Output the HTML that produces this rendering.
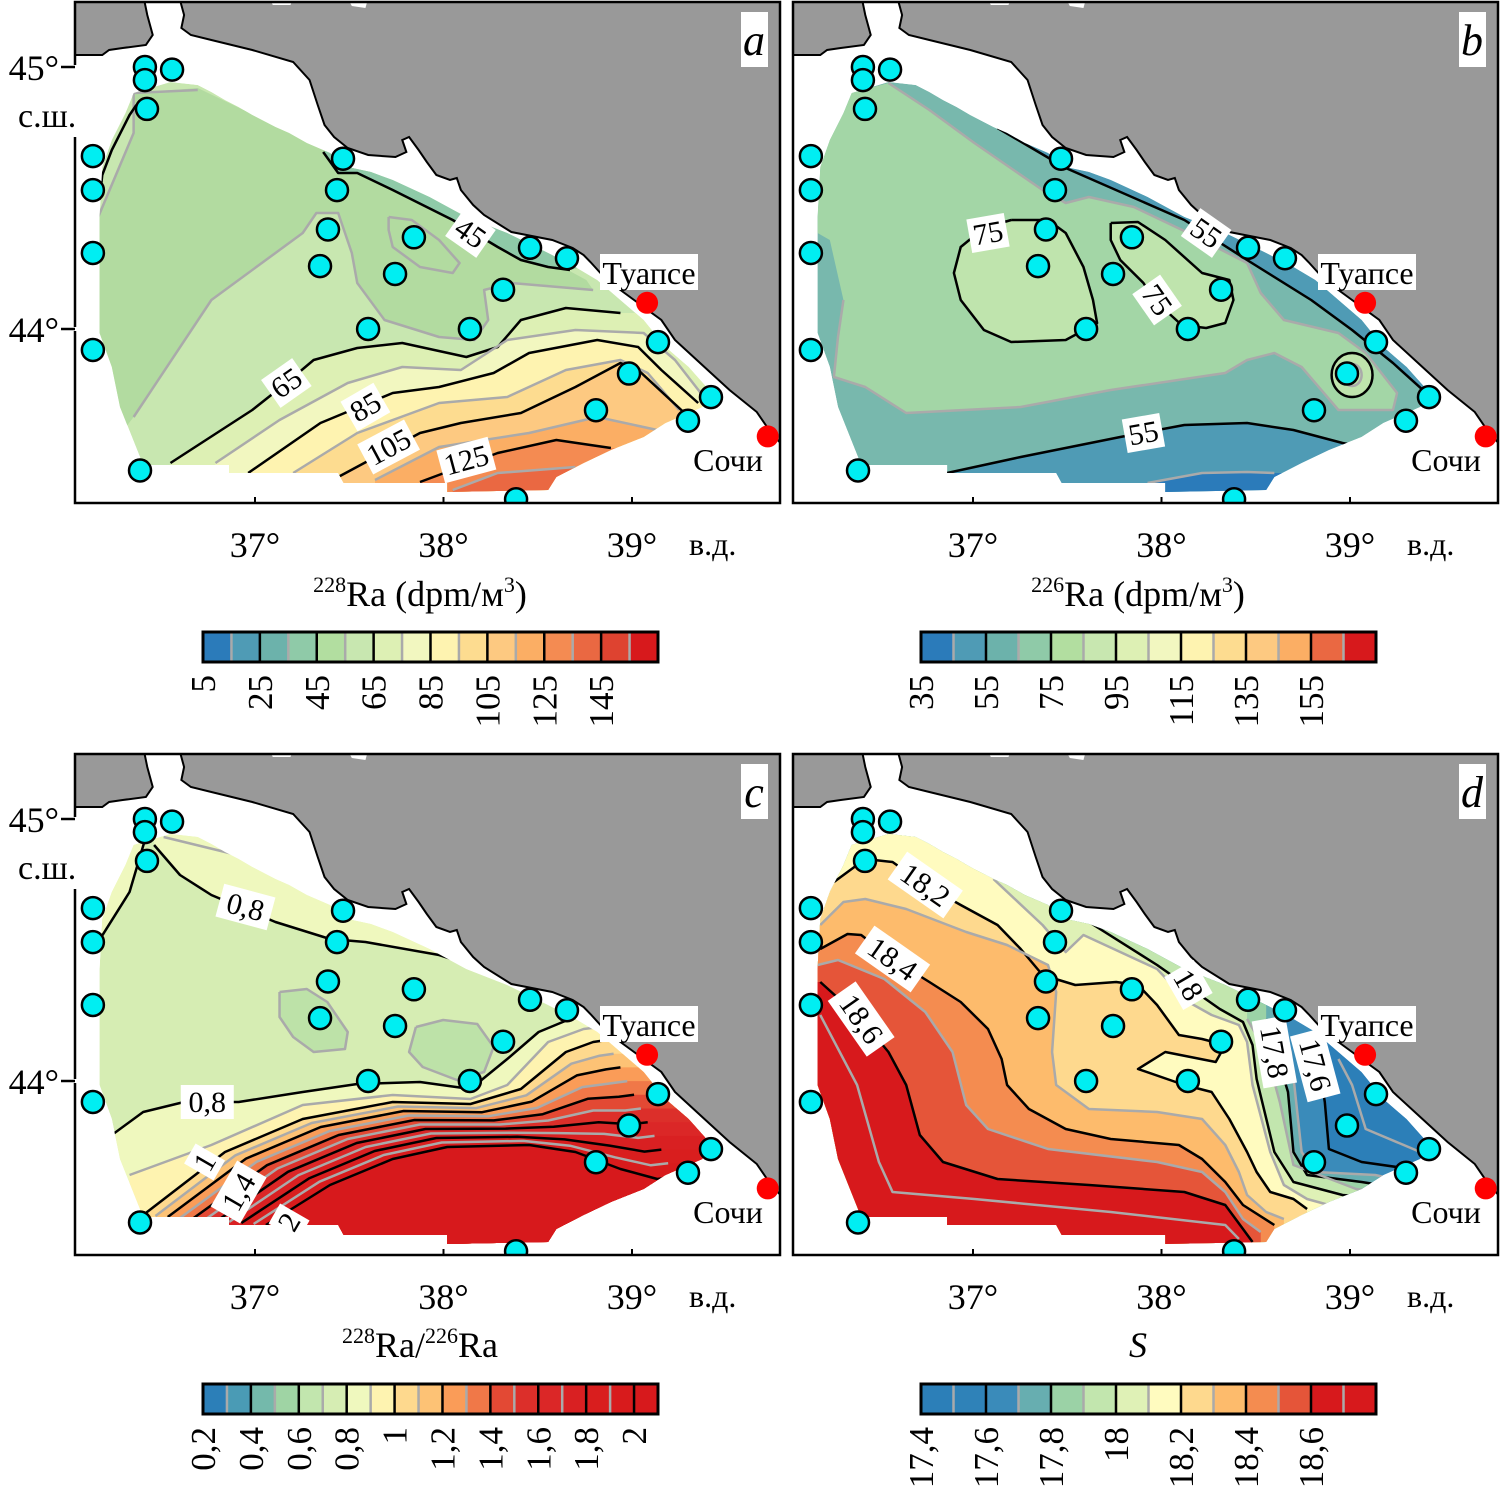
<!DOCTYPE html>
<html><head><meta charset="utf-8"><style>
html,body{margin:0;padding:0;background:#fff}
svg{display:block}
svg text{font-family:"Liberation Serif","Times New Roman",serif !important;fill:#000}
</style></head><body>
<svg id="fig" xmlns="http://www.w3.org/2000/svg" width="1500" height="1499" viewBox="0 0 1500 1499" font-family="Liberation Serif, serif"></svg>
<script>
// ---- station data (lon / lat) ----
const stationLon = [36.416,36.416,36.56,36.427,36.14,36.14,36.14,36.14,37.467,37.435,37.387,37.345,37.843,37.743,38.316,38.459,38.655,37.6,38.14,39.138,38.984,39.419,38.809,39.297,36.39,38.385];
const stationLat = [45.0,44.95,44.99,44.84,44.66,44.53,44.29,43.92,44.65,44.53,44.38,44.24,44.35,44.21,44.15,44.31,44.27,44.0,44.0,43.95,43.83,43.74,43.69,43.65,43.46,43.35];
const cityNames = ["Туапсе","Сочи"];
const cityLon = [39.08, 39.72];
const cityLat = [44.10, 43.59];
const lonTicks = [37,38,39];
const latTicks = [45,44];
// colorbars
const cbA = ['#2b7bba','#4f9bb5','#6cb2ab','#8fcaa8','#b2dea0','#c8e7b0','#ddf0b4','#f2f7c0','#fef3b0','#fddc90','#fdc981','#fbae64','#f48b52','#ea6842','#de4330','#d7191c'];
const cbALabels = ['5','25','45','65','85','105','125','145'];
const cbB = ['#2b7bba','#4f9bb5','#6cb2ab','#8fcaa8','#b2dea0','#c8e7b0','#ddf0b4','#f2f7c0','#fef3b0','#fddc90','#fdc981','#fbae64','#ea6842','#d7191c'];
const cbBLabels = ['35','55','75','95','115','135','155'];
const cbC = ['#2c7fb8','#4a9bb5','#74b9ab','#9fd4a4','#c2e6ae','#d6edb3','#eff8be','#fef3b0','#fed98e','#fdc275','#fa9c58','#f07848','#e34934','#dc2f2a','#db2727','#d92022','#d91e1e','#d81b1c','#d7191c'];
const cbCLabels = ['0,2','0,4','0,6','0,8','1','1,2','1,4','1,6','1,8','2'];
const cbD = ['#2c7fb8','#2f82b8','#3a8bba','#67aeb0','#9bd2a6','#c2e6ae','#dff1b6','#fffbbf','#fed98e','#fdbb6c','#f48c50','#e55539','#d7191c','#d7191c'];
const cbDLabels = ['17,4','17,6','17,8','18','18,2','18,4','18,6'];

const NS='http://www.w3.org/2000/svg';
const svg=document.getElementById('fig');
const SX=1.3636;
const FF='Liberation Serif, Times New Roman, serif';
function el(tag,attrs,parent){const e=document.createElementNS(NS,tag);for(const k in attrs)e.setAttribute(k,attrs[k]);if(tag==='text')e.setAttribute('font-family',FF);(parent||svg).appendChild(e);return e;}
function P(pts){return pts.map(p=>p[0]+','+p[1]).join(' ');}
function projX(ox,lon){return ox+180+(lon-37)*188.5;}
function projY(oy,lat){return oy+67+(45-lat)*262;}

const domain=[[43,93],[70,82],[90,85],[100,92],[110,100],[120,107],[130,115],[147,127],[157,133],[170,143],[187,153],[200,167],[217,172],[233,180],[260,197],[287,217],[317,233],[347,253],[367,267],[383,280],[400,300],[417,320],[433,347],[450,367],[467,393],[460,407],[433,423],[417,437],[393,450],[373,463],[353,477],[347,490],[273,492],[273,483],[197,483],[193,473],[113,473],[113,465],[50,465],[33,407],[27,367],[18,333],[18,217],[20,167],[27,140],[37,113]];
const landR=[[77,0],[78,5],[80,15],[78,28],[85,35],[100,40],[130,50],[160,62],[172,80],[178,105],[183,125],[190,137],[200,148],[215,155],[235,157],[243,152],[240,140],[245,137],[252,150],[258,162],[265,175],[275,180],[280,178],[283,190],[292,205],[300,215],[320,232],[350,240],[365,248],[373,255],[378,262],[390,280],[410,300],[430,320],[440,340],[460,365],[480,390],[500,412],[510,432],[520,447],[530,447],[530,-5],[77,-5]];
const landL=[[-5,-5],[50,-5],[53,15],[57,35],[52,45],[35,48],[25,50],[20,55],[-5,55]];

function bottomClose(l){const f=l[0],e=l[l.length-1];return l.concat([[600,e[1]],[600,600],[f[0],600]]);}
function leftClose(l){const f=l[0],e=l[l.length-1];return l.concat([[e[0],600],[-60,600],[-60,-60],[f[0],-60]]);}
function leftClose2(l){const f=l[0],e=l[l.length-1];return l.concat([[e[0],600],[-60,600],[-60,f[1]]]);}
function lerpLine(a,b,t){return a.map((p,i)=>[p[0]+(b[i][0]-p[0])*t,p[1]+(b[i][1]-p[1])*t]);}

const A_L=[
 [[70,463],[130,410],[155,383],[175,360],[207,348],[240,343],[287,357],[310,347],[327,320],[360,308],[400,313]],
 [[103,463],[150,420],[200,383],[240,367],[283,370],[317,340],[367,330],[417,333],[440,360],[460,395]],
 [[127,473],[180,423],[233,393],[267,387],[307,373],[333,353],[383,340],[413,347],[430,370],[457,403]],
 [[160,473],[207,433],[267,403],[317,397],[360,370],[400,360],[420,373],[443,410]],
 [[193,477],[253,433],[283,423],[327,413],[367,387],[400,363],[413,370],[447,413]],
 [[220,480],[267,447],[333,433],[383,417],[427,430]],
 [[253,482],[310,453],[353,440],[393,448]],
 [[277,490],[310,473],[367,467]]];
const A_C=['#ddf0b4','#f2f7c0','#fef3b0','#fddc90','#fdc981','#fbae64','#f48b52','#ea6842'];
const panels=[
 {ox:75,oy:0,name:'a',draw(g,lines){
   el('polygon',{points:P(domain),fill:'#c8e7b0'},g);
   const p55=[[43,93],[90,88],[200,160],[300,225],[375,280],[380,290],[320,283],[300,290],[303,320],[293,340],[267,337],[227,320],[207,283],[203,253],[193,213],[177,213],[167,233],[100,300],[43,417],[30,440],[17,400],[17,217],[35,160],[43,133]];
   el('polygon',{points:P(p55),fill:'#b2dba0'},g);
   const l45=[[182,152],[193,173],[207,173],[233,190],[277,220],[310,247],[327,260],[347,267],[363,270]];
   el('polygon',{points:P(l45.concat([[390,260],[220,130]])),fill:'#8fcaa8'},g);
   A_L.forEach((l,i)=>el('polygon',{points:P(bottomClose(l)),fill:A_C[i]},g));
   lines.push({pts:[[90,90],[43,93],[43,133],[17,217]],c:'#aaa'});
   lines.push({pts:[[380,290],[320,283],[300,290],[303,320],[293,340],[267,337],[227,320],[207,283],[203,253],[193,213],[177,213],[167,233],[100,300],[43,417]],c:'#aaa'});
   lines.push({pts:[[230,217],[247,220],[267,240],[282,263],[277,273],[253,267],[233,247],[230,230],[230,217]],c:'#aaa'});
   lines.push({pts:l45,c:'#000'});
   lines.push({pts:[[45,105],[40,115],[27,150],[20,175],[18,200]],c:'#000'});
   A_L.forEach((l,i)=>lines.push({pts:l,c:i%2?'#aaa':'#000'}));
 },labels:[['45',290,233,35],['65',155,383,-35],['85',213,407,-30],['105',230,447,-28],['125',287,460,-15]]},
 {ox:793,oy:0,name:'b',draw(g,lines){
   el('polygon',{points:P(domain),fill:'#78b8ad'},g);
   const p65=[[43,93],[70,83],[100,110],[133,143],[183,190],[200,203],[217,197],[250,207],[290,233],[333,263],[343,293],[360,320],[400,333],[420,353],[443,393],[440,410],[400,410],[373,367],[353,353],[333,360],[317,373],[233,390],[167,407],[83,413],[53,387],[30,377],[33,337],[37,300],[27,240],[18,233],[18,217],[20,167],[27,140],[37,113]];
   el('polygon',{points:P(p65),fill:'#a3d6a6'},g);
   const e1=[[160,220],[187,220],[200,233],[213,267],[220,300],[223,323],[200,340],[160,342],[140,330],[123,300],[118,273],[123,247],[140,228]];
   const e2=[[233,223],[253,222],[273,240],[300,273],[320,280],[323,300],[317,323],[303,328],[285,325],[265,300],[257,283],[240,260],[233,240]];
   el('polygon',{points:P(e1),fill:'#bfe4ad'},g);
   el('polygon',{points:P(e2),fill:'#bfe4ad'},g);
   el('ellipse',{cx:410,cy:375,rx:15,ry:22,fill:'#bfe4ad'},g);
   const l55=[[113,473],[167,457],[240,437],[287,425],[333,423],[367,430],[403,443],[430,450]];
   el('polygon',{points:P(bottomClose(l55)),fill:'#4f9bb5'},g);
   const t55=[[150,128],[200,168],[287,220],[333,260],[380,300],[410,330],[440,363],[470,400]];
   el('polygon',{points:P(t55.concat([[520,400],[520,100],[150,100]])),fill:'#4f9bb5'},g);
   const l45=[[260,483],[300,473],[333,472],[353,473]];
   el('polygon',{points:P(bottomClose(l45)),fill:'#2b7bba'},g);
   lines.push({pts:p65.slice(1,28),c:'#aaa'});
   lines.push({pts:e1.concat([e1[0]]),c:'#000'});
   lines.push({pts:e2.concat([e2[0]]),c:'#000'});
   lines.push({pts:l55,c:'#000'});lines.push({pts:t55,c:'#000'});lines.push({pts:l45,c:'#aaa'});
   lines.push({ell:[410,375,15,22],c:'#000'});lines.push({ell:[410,375,7,11],c:'#aaa'});
 },labels:[['75',143,233,-10],['75',267,300,55],['55',303,233,35],['55',257,433,-10]]},
 {ox:75,oy:752,name:'c',draw(g,lines){
   el('polygon',{points:P(domain),fill:'#d6edb3'},g);
   const up=[[58,93],[77,123],[100,143],[147,170],[187,187],[213,190],[267,203],[290,213],[380,260]];
   el('polygon',{points:P(up.concat([[420,0],[58,0]])),fill:'#eff8be'},g);
   const lf=[[53,80],[40,140],[17,190]];
   el('polygon',{points:P(lf.concat([[-50,190],[-50,80]])),fill:'#eff8be'},g);
   const p1=[[150,240],[170,237],[185,250],[200,280],[198,297],[175,300],[160,285],[150,265]];
   const p2=[[250,275],[270,268],[295,272],[307,295],[300,320],[280,328],[255,315],[245,300]];
   el('polygon',{points:P(p1),fill:'#bde2a8'},g);el('polygon',{points:P(p2),fill:'#bde2a8'},g);
   const L08=[[27,383],[50,360],[80,350],[120,350],[167,340],[207,332],[253,330],[290,337],[317,307],[340,280],[363,267],[380,262]];
   const L09=[[40,423],[100,393],[167,353],[233,343],[290,347],[317,333],[347,290],[373,277],[385,275]];
   const L10=[[50,463],[110,400],[167,367],[233,350],[290,352],[327,337],[360,300],[380,290],[390,288]];
   const L20=[[140,473],[187,433],[233,407],[273,395],[333,393],[367,400],[400,417],[427,427],[440,425]];
   el('polygon',{points:P(bottomClose(L08)),fill:'#eff8be'},g);
   el('polygon',{points:P(bottomClose(L09)),fill:'#fef3b0'},g);
   el('polygon',{points:P(bottomClose(L10)),fill:'#fed98e'},g);
   const cc=['#fdc275','#fa9c58','#f07848','#e34934','#dc2f2a','#db2727','#d92022','#d91e1e','#d81b1c','#d7191c'];
   const mids=[];
   for(let k=1;k<=10;k++){const l=lerpLine(L10,L20,k/10);mids.push(l);el('polygon',{points:P(bottomClose(l)),fill:cc[k-1]},g);}
   lines.push({pts:up,c:'#000'});lines.push({pts:lf,c:'#000'});
   lines.push({pts:[[65,85],[110,100],[140,110]],c:'#aaa'});
   lines.push({pts:p1.concat([p1[0]]),c:'#aaa'});lines.push({pts:p2.concat([p2[0]]),c:'#aaa'});
   lines.push({pts:L08,c:'#000'});lines.push({pts:L09,c:'#aaa'});lines.push({pts:L10,c:'#000'});
   mids.forEach((l,i)=>lines.push({pts:l,c:i%2?'#000':'#aaa'}));
 },labels:[['0,8',125,155,15],['0,8',97,350,0],['1',95,410,-60],['1,4',120,440,-60],['2',157,470,-60]]},
 {ox:793,oy:752,name:'d',draw(g,lines){
   el('polygon',{points:P(domain),fill:'#2c7fb8'},g);
   const D=[
    {p:[[383,250],[383,290],[390,350],[393,397],[417,410],[453,417],[470,420]],f:'#3a8bba',c:'#000',k:1},
    {p:[[353,253],[365,300],[373,400],[383,420],[427,423],[450,430]],f:'#67aeb0',c:'#aaa',k:1},
    {p:[[347,267],[363,340],[367,400],[377,423],[417,430],[440,435]],f:'#9bd2a6',c:'#000',k:1},
    {p:[[333,267],[347,300],[357,350],[367,413],[413,437],[430,440]],f:'#c2e6ae',c:'#aaa',k:1},
    {p:[[217,170],[267,213],[313,257],[330,270],[337,293],[340,327],[353,400],[367,430],[403,443],[420,445]],f:'#dff1b6',c:'#000',k:1},
    {p:[[147,127],[183,173],[200,200],[213,183],[267,217],[290,250],[307,263],[327,273],[333,290],[337,333],[350,400],[360,433],[377,447],[393,453]],f:'#fffbbf',c:'#aaa',k:1},
    {p:[[30,130],[53,107],[73,110],[97,133],[123,153],[150,173],[167,197],[183,223],[207,233],[237,230],[253,233],[267,253],[283,283],[300,287],[317,293],[310,310],[273,300],[253,317],[287,333],[307,340],[320,367],[333,400],[340,420],[350,440],[367,447],[377,457]],f:'#fed98e',c:'#000',k:2},
    {p:[[20,173],[37,150],[53,147],[83,157],[127,180],[157,193],[187,213],[193,240],[190,300],[193,333],[217,357],[267,360],[300,367],[317,393],[327,420],[333,443],[347,460],[360,467]],f:'#fdbb6c',c:'#aaa',k:2},
    {p:[[20,197],[40,182],[50,183],[73,207],[100,230],[123,250],[143,277],[153,307],[157,333],[173,357],[200,377],[233,387],[283,393],[300,407],[317,430],[330,453],[353,473]],f:'#f48c50',c:'#000',k:2},
    {p:[[18,213],[33,208],[67,227],[97,260],[117,300],[127,353],[143,377],[187,397],[267,410],[300,420],[317,440],[330,467],[343,480]],f:'#e55539',c:'#aaa',k:2},
    {p:[[20,230],[50,267],[70,300],[83,333],[93,383],[110,410],[150,427],[217,433],[287,440],[317,453],[330,477],[337,490]],f:'#d7191c',c:'#000',k:2}];
   D.forEach(o=>el('polygon',{points:P(o.k===1?leftClose(o.p):leftClose2(o.p)),fill:o.f},g));
   D.forEach(o=>lines.push({pts:o.p,c:o.c}));
   lines.push({pts:[[400,307],[410,333],[420,377],[460,400]],c:'#aaa'});
   lines.push({pts:[[20,263],[47,333],[63,410],[73,440],[133,447],[233,460],[317,473],[327,487]],c:'#aaa'});
 },labels:[['18,2',97,133,35],['18,4',73,207,35],['18,6',50,267,55],['18',290,233,60],['17,8',353,300,80],['17,6',383,313,75]]}
];

panels.forEach((pn,pi)=>{
  const {ox,oy}=pn;
  const pg=el('g',{});
  
  
  const cid='clipF'+pi, did='clipD'+pi;
  const defs=el('defs',{},pg);
  const cf=el('clipPath',{id:cid},defs);el('rect',{x:ox,y:oy+2,width:705,height:501},cf);
  const cd=el('clipPath',{id:did},defs);el('polygon',{points:P(domain)},cd);
  const frameG=el('g',{'clip-path':'url(#'+cid+')'},pg);
  const mg=el('g',{transform:`translate(${ox},${oy}) scale(${SX},1)`},frameG);
  const land=el('g',{},mg);
  
  
  el('polygon',{points:P(landR),fill:'#999','stroke':'#000','stroke-width':2,'vector-effect':'non-scaling-stroke'},land);
  el('polygon',{points:P(landL),fill:'#999','stroke':'#000','stroke-width':2,'vector-effect':'non-scaling-stroke'},land);
  el('polygon',{points:P([[143,-2],[160,-2],[158,5],[145,5]]),fill:'#fff'},land);
  el('polygon',{points:P([[200,-2],[215,-2],[213,8],[203,6]]),fill:'#fff'},land);
  const fg=el('g',{'clip-path':'url(#'+did+')'},mg);
  
  
  const lines=[];
  pn.draw(fg,lines);
  lines.forEach(l=>{
    if(l.ell){el('ellipse',{cx:l.ell[0],cy:l.ell[1],rx:l.ell[2],ry:l.ell[3],fill:'none',stroke:l.c,'stroke-width':2.5,'vector-effect':'non-scaling-stroke'},fg);return;}
    el('polyline',{points:P(l.pts),fill:'none',stroke:l.c,'stroke-width':2.5,'stroke-linejoin':'round','vector-effect':'non-scaling-stroke'},fg);
  });
  pn.labels.forEach(lb=>{
    const x=ox+lb[1]*SX,y=oy+lb[2];
    const lg=el('g',{transform:`translate(${x},${y}) rotate(${lb[3]})`},frameG);
    
    
    const w=lb[0].length*15+8;
    el('rect',{x:-w/2,y:-17,width:w,height:34,fill:'#fff'},lg);
    const t=el('text',{x:0,y:10,'text-anchor':'middle','font-size':30},lg);t.textContent=lb[0];
  });
  stationLon.forEach((lon,i)=>{
    const c=el('circle',{cx:projX(ox,lon),cy:projY(oy,stationLat[i]),r:11,fill:'#00eef2',stroke:'#000','stroke-width':2.5},frameG);
    
    
  });
  cityLon.forEach((lon,i)=>{
    const c=el('circle',{cx:projX(ox,lon),cy:projY(oy,cityLat[i]),r:11,fill:'#ff0000'},frameG);
    
    
  });
  el('rect',{x:ox+525,y:oy+254,width:98,height:36,fill:'#fff'},frameG);
  const t1=el('text',{x:ox+574,y:oy+284,'text-anchor':'middle','font-size':32},frameG);t1.textContent=cityNames[0];
  
  const t2=el('text',{x:ox+653,y:oy+471,'text-anchor':'middle','font-size':32},frameG);t2.textContent=cityNames[1];
  
  el('rect',{x:ox+666,y:oy+12,width:27,height:55,fill:'#fff'},frameG);
  const pl=el('text',{x:ox+679,y:oy+55,'text-anchor':'middle','font-size':44,'font-style':'italic'},frameG);pl.textContent=pn.name;
  
  const fr=el('rect',{x:ox,y:oy+2,width:705,height:501,fill:'none',stroke:'#000','stroke-width':2.5},pg);
  
  lonTicks.forEach(lt=>{
    const x=projX(ox,lt);
    el('line',{x1:x,y1:oy+503,x2:x,y2:oy+497,stroke:'#000','stroke-width':2},pg);
    const t=el('text',{x:x,y:oy+557,'text-anchor':'middle','font-size':36},pg);t.textContent=lt+'°';
    
  });
  const vd=el('text',{x:ox+614,y:oy+555,'font-size':32},pg);vd.textContent='в.д.';
  
  if(ox<100){
    latTicks.forEach(lt=>{
      const y=projY(oy,lt);
      el('rect',{x:ox-3,y:y-2,width:6,height:lt===45?72:4,fill:'#fff'},pg);
      el('line',{x1:ox-14,y1:y,x2:ox,y2:y,stroke:'#000','stroke-width':2.5},pg);
      const t=el('text',{x:ox-16,y:y+13,'text-anchor':'end','font-size':36},pg);t.textContent=lt+'°';
      
    });
    const ss=el('text',{x:18,y:oy+127,'font-size':34},pg);ss.textContent='с.ш.';
    
  }
});

function title(x,y,html,name){const t=el('text',{x:x,y:y,'text-anchor':'middle','font-size':36});t.innerHTML=html;}
title(420,606,'<tspan font-size="22" dy="-14">228</tspan><tspan dy="14">Ra (dpm/м</tspan><tspan font-size="22" dy="-14">3</tspan><tspan dy="14">)</tspan>','axis-title-ra228');
title(1138,606,'<tspan font-size="22" dy="-14">226</tspan><tspan dy="14">Ra (dpm/м</tspan><tspan font-size="22" dy="-14">3</tspan><tspan dy="14">)</tspan>','axis-title-ra226');
title(420,1357,'<tspan font-size="22" dy="-14">228</tspan><tspan dy="14">Ra/</tspan><tspan font-size="22" dy="-14">226</tspan><tspan dy="14">Ra</tspan>','axis-title-ratio');
title(1138,1357,'<tspan font-style="italic">S</tspan>','axis-title-salinity');

function colorbar(x,y,cols,labels,name){
  const g=el('g',{});
  
  
  const W=455,H=30,sw=W/cols.length;
  cols.forEach((c,i)=>{
    const r=el('rect',{x:x+i*sw,y:y,width:sw+0.5,height:H,fill:c},g);
    
    
  });
  for(let i=1;i<cols.length;i++){
    el('line',{x1:x+i*sw,y1:y,x2:x+i*sw,y2:y+H,stroke:i%2?'#aaa':'#000','stroke-width':2.5},g);
  }
  el('rect',{x:x,y:y,width:W,height:H,fill:'none',stroke:'#000','stroke-width':3},g);
  labels.forEach((lb,i)=>{
    const bx=x+i*2*sw+12, by=y+43;
    const t=el('text',{transform:`translate(${bx},${by}) rotate(-90)`,'text-anchor':'end','font-size':35},g);
    t.textContent=lb;
    
    
  });
}
colorbar(203,632,cbA,cbALabels,'colorbar-ra228');
colorbar(921,632,cbB,cbBLabels,'colorbar-ra226');
colorbar(203,1384,cbC,cbCLabels,'colorbar-ratio');
colorbar(921,1384,cbD,cbDLabels,'colorbar-salinity');
</script>
</body></html>
